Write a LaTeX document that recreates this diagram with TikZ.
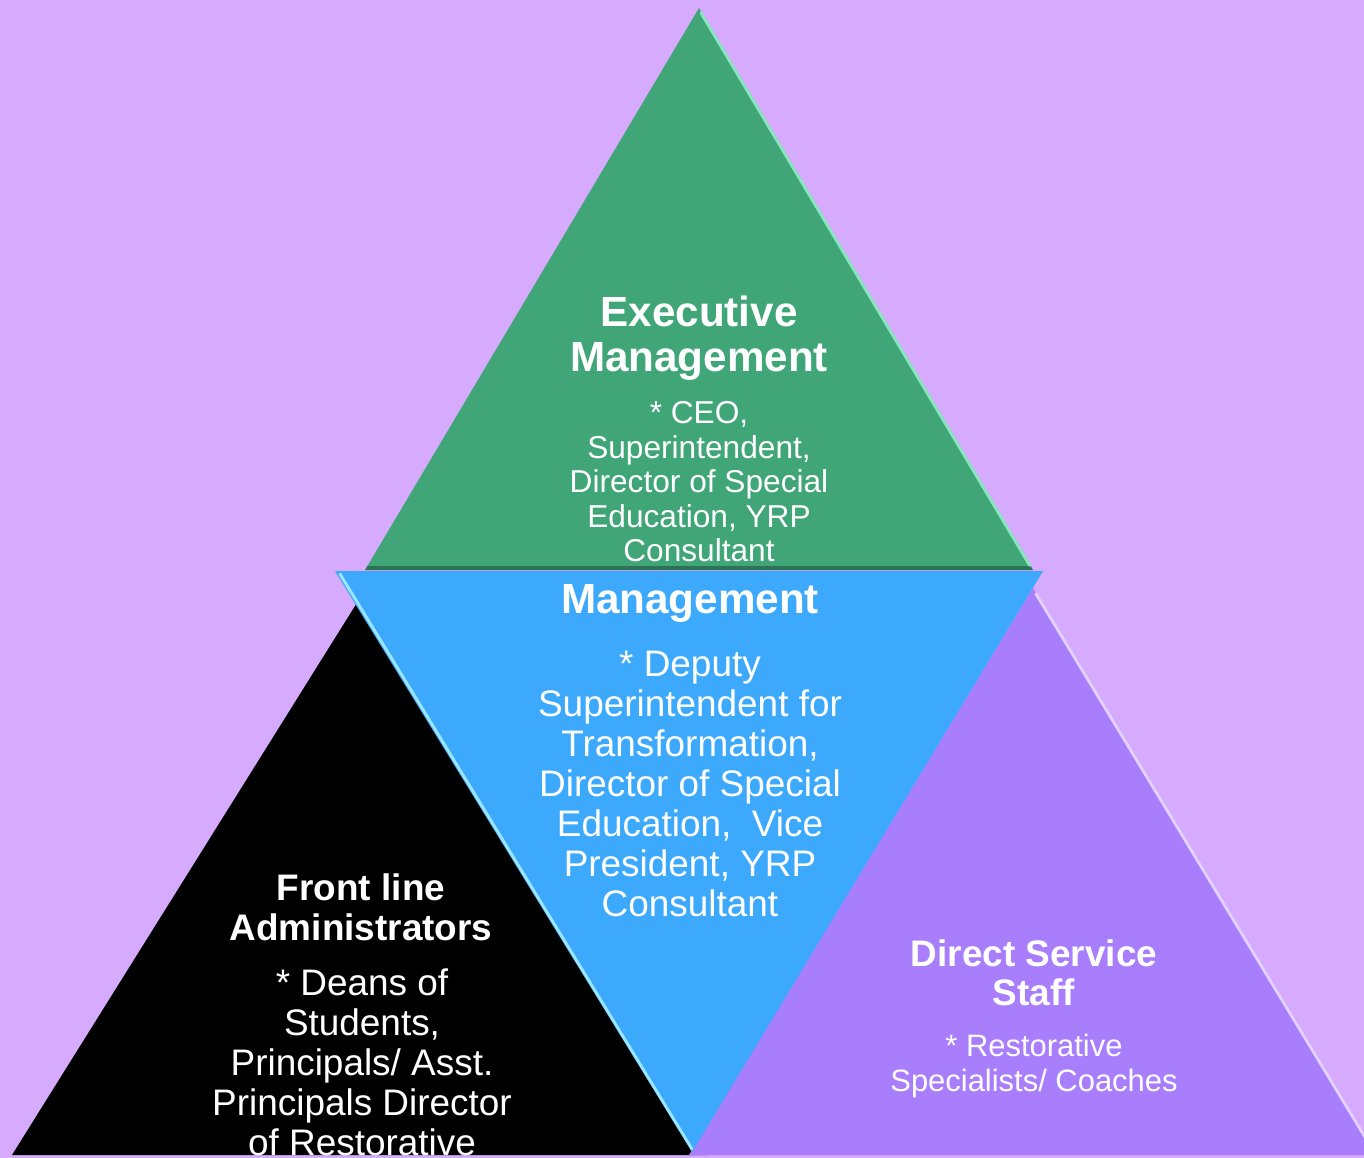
\documentclass[tikz,border=0pt]{standalone}
\usepackage{fontspec}
\setmainfont{Liberation Sans}
\definecolor{bg}{HTML}{D6AAFC}
\definecolor{tgreen}{HTML}{40A678}
\definecolor{tblue}{HTML}{3DA9FD}
\definecolor{tpurple}{HTML}{A87EFC}
\definecolor{hlgreen}{HTML}{86E6BC}
\definecolor{hlblue}{HTML}{9BE6FF}
\definecolor{hlpurple}{HTML}{E2D2FF}
\begin{document}
\begin{tikzpicture}[x=0.01cm,y=-0.01cm,
  lbl/.style={text=white, inner sep=0pt, align=center},
  hl/.style={line width=0.8pt, line cap=round},
]
\useasboundingbox (0,0) rectangle (1364,1158);
\clip (0,0) rectangle (1364,1158);
\fill[bg] (0,0) rectangle (1364,1158);

% front line (black)
\fill[black] (360,598) -- (708,1155) -- (12,1155) -- cycle;
% direct service (purple)
\fill[tpurple] (1033,588) -- (1377,1155) -- (689,1155) -- cycle;
\draw[hlpurple, hl] (1036,594) -- (1377,1157);
% executive (green)
\fill[tgreen] (699,8) -- (1033,570) -- (365,570) -- cycle;
\draw[hlgreen, hl] (701,13) -- (1030,566);
% shadow below green base, only on the green
\begin{scope}
  \clip (699,8) -- (1033,570) -- (365,570) -- cycle;
  \fill[black, opacity=0.3] (340,566) rectangle (1040,576);
\end{scope}
% management (blue)
\fill[tblue] (335,571) -- (1043,571) -- (692,1152) -- cycle;
\draw[hlblue, hl] (340,574) -- (692,1149);

% texts
\node[lbl, font=\fontsize{12}{12.8}\selectfont\bfseries] (exT) at (699,338)
  {Executive\\Management};
\node[lbl, font=\fontsize{9}{9.8}\selectfont] (exB) at (699,482)
  {* CEO,\\Superintendent,\\Director of Special\\Education, YRP\\Consultant};
\node[lbl, font=\fontsize{12}{12.8}\selectfont\bfseries] (mgT) at (690,603)
  {Management};
\node[lbl, font=\fontsize{10.5}{11.4}\selectfont] (mgB) at (690,784)
  {* Deputy\\Superintendent for\\Transformation,\\Director of Special\\Education, \ Vice\\President, YRP\\Consultant};
\node[lbl, font=\fontsize{10.5}{11.4}\selectfont\bfseries] (flT) at (361,907)
  {Front line\\Administrators};
\node[lbl, font=\fontsize{10.5}{11.4}\selectfont] (flB) at (362,1062)
  {* Deans of\\Students,\\Principals/ Asst.\\Principals Director\\of Restorative};
\node[lbl, font=\fontsize{10.5}{11.1}\selectfont\bfseries] (dsT) at (1034,973)
  {Direct Service\\Staff};
\node[lbl, font=\fontsize{8.8}{9.7}\selectfont] (dsB) at (1034,1066)
  {* Restorative\\Specialists/ Coaches};
\end{tikzpicture}
\end{document}
